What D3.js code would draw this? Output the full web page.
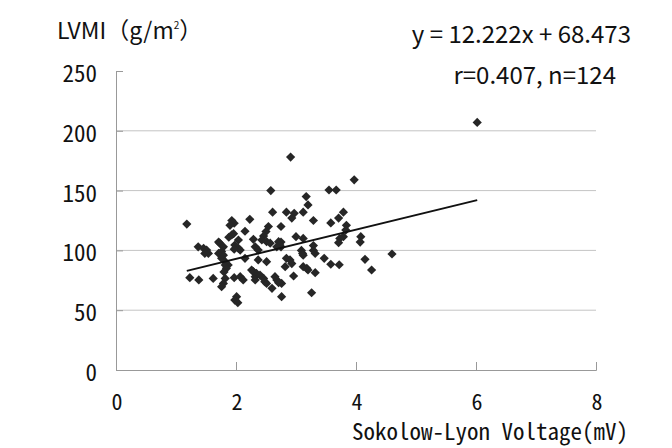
<!DOCTYPE html>
<html>
<head>
<meta charset="utf-8">
<script src="https://cdn.jsdelivr.net/npm/d3@7"></script>
<style>
  body { margin: 0; background: #fff; }
  svg text { font-family: "Noto Sans Mono CJK JP", "DejaVu Sans Mono", monospace; fill: #111; }
  svg text.prop { font-family: "Noto Sans CJK JP", "DejaVu Sans", sans-serif; }
</style>
</head>
<body>
<div id="chart"></div>
<script>
var width = 672, height = 448;
var plot = {left: 116, right: 596, top: 71, bottom: 370};

// Sokolow-Lyon voltage (mV)
var voltage = [
  2.91, 3.97, 2.58, 3.55, 3.67, 3.17, 3.20, 6.02,
  2.84, 2.97, 2.93, 3.12, 3.79, 3.71, 3.58, 3.29, 3.84, 3.83, 2.75, 3.00,
  3.12, 3.79, 3.73, 3.71, 4.08, 4.07, 2.75, 2.75, 3.09, 3.11, 3.12, 3.29,
  3.29, 3.32, 4.60, 4.15, 4.26, 3.47, 3.72, 3.58, 3.32, 2.84, 2.90, 2.93,
  2.82, 3.12, 3.18, 3.20, 2.96, 2.76, 2.76, 3.26,
  1.18, 2.61, 1.93, 1.97, 1.90, 2.23, 2.54, 2.50, 1.96, 1.93, 1.88, 2.15,
  1.71, 1.73, 1.79, 2.04, 2.29, 2.46, 2.43, 2.51, 2.57, 2.71, 2.73, 2.68,
  2.32, 2.37, 1.98, 2.04, 2.07, 1.97, 1.37, 1.46, 1.51, 1.54, 1.48, 1.71,
  1.76, 1.79, 2.15, 2.37, 2.51, 1.76, 1.82, 1.87, 1.82, 1.84, 1.80, 1.23,
  1.38, 1.62, 1.82, 1.79, 1.76, 1.97, 2.07, 2.12, 2.26, 2.29, 2.34, 2.32,
  2.40, 2.32, 2.46, 2.48, 2.51, 2.65, 2.68, 2.71, 2.60, 2.01, 1.98, 2.03
];

// LVMI (g/m2)
var lvmi = [
  178, 159, 150, 150.5, 150.5, 145, 138, 207,
  132, 131, 127, 132, 132, 127, 123, 125, 121, 117, 120, 111.5,
  110, 111.5, 110, 106.5, 111.5, 107, 107, 103, 100, 97.5, 96, 104,
  100, 97.5, 97, 92.5, 83.6, 93.4, 88, 88.4, 81.4, 93.4, 92, 89,
  86.4, 86.4, 85, 83.6, 78.6, 72.4, 61.3, 64.6,
  122, 132, 125, 122.7, 121, 126, 120, 115.7, 114, 113, 111, 116,
  107, 106, 103, 108.7, 109.3, 112, 108.7, 107.3, 106, 107.3, 104.5, 103,
  103, 100.3, 104.5, 101.7, 100.3, 101, 103, 101.7, 100.3, 97.5, 97.5, 97.5,
  99, 96, 93.4, 92, 90.6, 93.4, 90.6, 87.8, 87.8, 85, 82, 77.2,
  75.3, 76.6, 76.6, 72.4, 69.6, 77.2, 78, 75.3, 83.6, 82.2, 80.8, 78,
  79.4, 75.3, 76.6, 73.8, 72.4, 78, 75.3, 73, 68.3, 61.3, 58.5, 56.3
];

var xTicks = [0, 2, 4, 6, 8];
var yTicks = [0, 50, 100, 150, 200, 250];
var fit = {slope: 12.222, intercept: 68.473, from: 1.18, to: 6.02};

var data = voltage.map(function(v, i) { return {x: v, y: lvmi[i]}; });

var svg = d3.select("#chart").append("svg")
  .attr("width", width)
  .attr("height", height);

var x = d3.scaleLinear().domain([0, 8]).range([plot.left, plot.right]);
var y = d3.scaleLinear().domain([0, 250]).range([plot.bottom, plot.top]);

// gridlines
svg.append("g")
  .selectAll("line")
  .data(yTicks.filter(function(d) { return d > 0 && d < 250; }))
  .enter().append("line")
  .attr("x1", plot.left)
  .attr("x2", plot.right)
  .attr("y1", function(d) { return y(d); })
  .attr("y2", function(d) { return y(d); })
  .attr("stroke", "#c4c4c4")
  .attr("stroke-width", 1);

// y axis
var yAxis = d3.axisRight(y).tickValues(yTicks).tickSize(7).tickFormat("");
svg.append("g")
  .attr("transform", "translate(" + plot.left + ",0)")
  .call(yAxis)
  .call(function(g) {
    g.select(".domain").attr("stroke", "#999");
    g.selectAll(".tick line").attr("stroke", "#999");
  });

svg.append("g")
  .selectAll("text")
  .data(yTicks)
  .enter().append("text")
  .attr("x", 97)
  .attr("y", function(d) { return y(d) + 11; })
  .attr("text-anchor", "end")
  .style("font-size", "23px")
  .text(function(d) { return d; });

// x axis
var xAxis = d3.axisTop(x).tickValues(xTicks).tickSize(8).tickFormat("");
svg.append("g")
  .attr("transform", "translate(0," + plot.bottom + ")")
  .call(xAxis)
  .call(function(g) {
    g.select(".domain").attr("stroke", "#999");
    g.selectAll(".tick line").attr("stroke", "#999");
  });

svg.append("g")
  .selectAll("text")
  .data(xTicks)
  .enter().append("text")
  .attr("x", function(d) { return x(d) + 1; })
  .attr("y", 410)
  .attr("text-anchor", "middle")
  .style("font-size", "22px")
  .text(function(d) { return d; });

// points
var diamond = "M0,-4.6L4.6,0L0,4.6L-4.6,0Z";
svg.append("g")
  .selectAll("path")
  .data(data)
  .enter().append("path")
  .attr("d", diamond)
  .attr("transform", function(d) { return "translate(" + x(d.x) + "," + y(d.y) + ")"; })
  .attr("fill", "#262626");

// regression line
svg.append("line")
  .attr("x1", x(fit.from))
  .attr("y1", y(fit.slope * fit.from + fit.intercept))
  .attr("x2", x(fit.to))
  .attr("y2", y(fit.slope * fit.to + fit.intercept))
  .attr("stroke", "#111")
  .attr("stroke-width", 2);

// labels
var title = svg.append("text")
  .attr("class", "prop")
  .attr("x", 57)
  .attr("y", 39)
  .style("font-size", "23px");
title.append("tspan").text("LVMI（g/m");
title.append("tspan").attr("dy", -10).style("font-size", "10px").text("2");
title.append("tspan").attr("dy", 10).text("）");

svg.append("text")
  .attr("class", "prop")
  .attr("x", 631)
  .attr("y", 43)
  .attr("text-anchor", "end")
  .style("font-size", "24px")
  .text("y = 12.222x + 68.473");

svg.append("text")
  .attr("class", "prop")
  .attr("x", 616)
  .attr("y", 84)
  .attr("text-anchor", "end")
  .style("font-size", "24px")
  .text("r=0.407, n=124");

svg.append("text")
  .attr("x", 628)
  .attr("y", 440)
  .attr("text-anchor", "end")
  .style("font-size", "23px")
  .text("Sokolow-Lyon Voltage(mV)");
</script>
</body>
</html>
